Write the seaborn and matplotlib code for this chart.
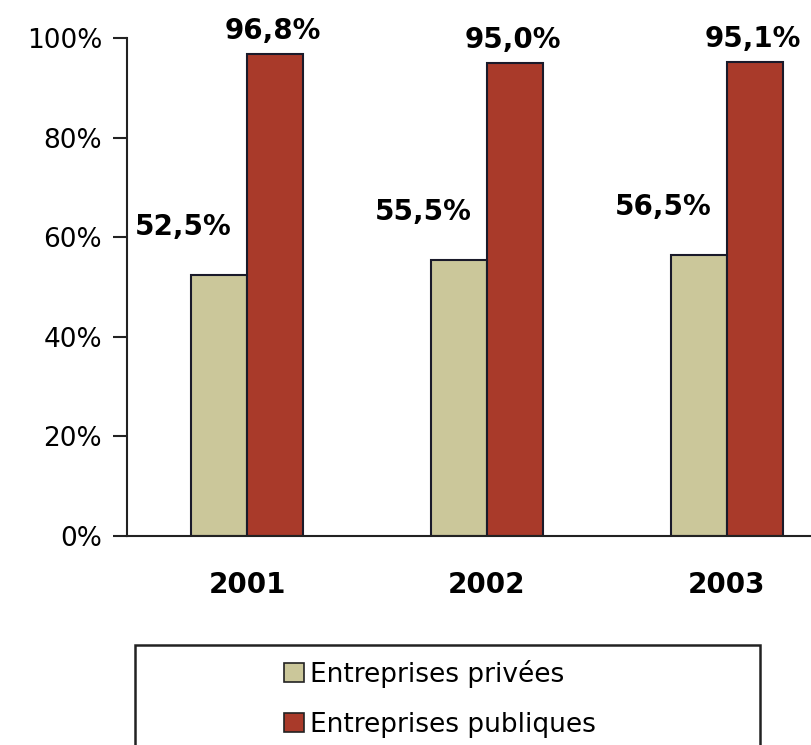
import pandas as pd
import seaborn as sns
import matplotlib.pyplot as plt
from matplotlib.patches import Rectangle

years = ['2001', '2002', '2003']
privees = [52.5, 55.5, 56.5]
publiques = [96.8, 95.0, 95.1]
series = ['Entreprises privées', 'Entreprises publiques']
colors = ['#CBC79A', '#A93A2A']

df = pd.DataFrame({
    'year': years * 2,
    'value': privees + publiques,
    'type': [series[0]] * 3 + [series[1]] * 3,
})

sns.set_style('white')
plt.rcParams['font.family'] = ['DejaVu Sans']
plt.rcParams['text.color'] = 'black'
plt.rcParams['xtick.color'] = 'black'
plt.rcParams['ytick.color'] = 'black'

fig = plt.figure(figsize=(8.11, 7.45), dpi=100)
ax = fig.add_axes([127 / 811, 209 / 745, 684 / 811, 498 / 745])

sns.barplot(data=df, x='year', y='value', hue='type', palette=colors, saturation=1,
            width=0.467, edgecolor='#1a1a2a', linewidth=1.5, ax=ax, legend=False)

ax.set_xlim(-0.5, 2.35)
ax.set_ylim(0, 100)
ax.set_yticks([0, 20, 40, 60, 80, 100])
ax.set_yticklabels([f'{t}%' for t in range(0, 101, 20)], fontsize=19)
ax.tick_params(axis='y', direction='out', length=10, width=1.5, color='#222222', pad=8, left=True)
ax.tick_params(axis='x', length=0, pad=25)
for lab in ax.get_xticklabels():
    lab.set_fontweight('bold')
    lab.set_fontsize(20)
ax.set_xlabel('')
ax.set_ylabel('')
for s in ['top', 'right']:
    ax.spines[s].set_visible(False)
for s in ['left', 'bottom']:
    ax.spines[s].set_color('#222222')
    ax.spines[s].set_linewidth(1.5)

# value labels
for i, v in enumerate(privees):
    ax.annotate(f'{v:.1f}%'.replace('.', ','), (i - 0.117, v), xytext=(-36, 34),
                textcoords='offset pixels', ha='center', va='bottom',
                fontsize=20, fontweight='bold')
for i, v in enumerate(publiques):
    ax.annotate(f'{v:.1f}%'.replace('.', ','), (i + 0.117, v), xytext=(-2, 9),
                textcoords='offset pixels', ha='center', va='bottom',
                fontsize=20, fontweight='bold')

# legend box (cut at bottom of picture)
fig.patches.append(Rectangle((135 / 811, -0.1), (760 - 135) / 811, 0.1 + 100 / 745,
                             transform=fig.transFigure, fill=False,
                             edgecolor='#222222', linewidth=1.8))
handles = [Rectangle((0, 0), 1, 1, facecolor=c, edgecolor='#222222', linewidth=1.2) for c in colors]
fig.legend(handles, series, loc='upper left', bbox_to_anchor=(284 / 811, 1 - 660 / 745),
           frameon=False, fontsize=19, handlelength=0.75, handleheight=0.75,
           handletextpad=0.22, labelspacing=0.9, borderaxespad=0, borderpad=0)

fig.savefig('out.png', dpi=100)
